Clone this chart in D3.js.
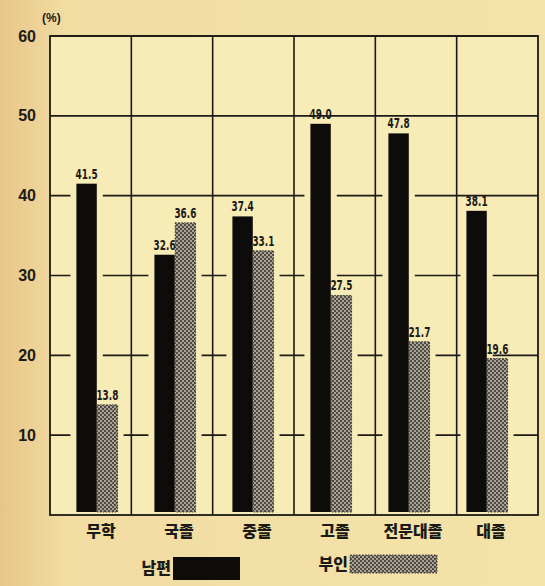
<!DOCTYPE html>
<html>
<head>
<meta charset="utf-8">
<script src="https://cdn.jsdelivr.net/npm/d3@7"></script>
<style>
  html, body { margin: 0; padding: 0; background: #efd89c; }
  svg { display: block; }
</style>
</head>
<body>
<div id="chart"></div>
<script>
'use strict';
// data
var categories = ['무학', '국졸', '중졸', '고졸', '전문대졸', '대졸'];
var husband = [41.5, 32.6, 37.4, 49.0, 47.8, 38.1];
var wife = [13.8, 36.6, 33.1, 27.5, 21.7, 19.6];
var yTicks = [10, 20, 30, 40, 50, 60];
var seriesNames = ['남편', '부인'];

var width = 545, height = 586;
var plotLeft = 50, plotRight = 538, plotTop = 36, plotBottom = 515;

var svg = d3.select('#chart').append('svg')
  .attr('width', width)
  .attr('height', height);

var defs = svg.append('defs');
// paper tone, a bit more orange on the left edge
var grad = defs.append('linearGradient').attr('id', 'paper')
  .attr('x1', 0).attr('x2', 1).attr('y1', 0).attr('y2', 0);
grad.append('stop').attr('offset', '0%').attr('stop-color', '#e8c688');
grad.append('stop').attr('offset', '12%').attr('stop-color', '#f1dca2');
grad.append('stop').attr('offset', '100%').attr('stop-color', '#f4e4aa');

// checkered fill for the wife bars
var pat = defs.append('pattern').attr('id', 'checker')
  .attr('width', 4).attr('height', 4)
  .attr('patternUnits', 'userSpaceOnUse');
pat.append('rect').attr('width', 4).attr('height', 4).attr('fill', '#a9a396');
pat.append('rect').attr('width', 2).attr('height', 2).attr('fill', '#4f4a44');
pat.append('rect').attr('x', 2).attr('y', 2).attr('width', 2).attr('height', 2).attr('fill', '#4f4a44');

svg.append('rect').attr('width', width).attr('height', height).attr('fill', 'url(#paper)');
svg.append('rect')
  .attr('x', plotLeft).attr('y', plotTop)
  .attr('width', plotRight - plotLeft).attr('height', plotBottom - plotTop)
  .attr('fill', '#f7ebb6');

var y = d3.scaleLinear().domain([0, 60]).range([plotBottom, plotTop]);
// grid columns
var xCol = d3.scaleBand().domain(categories).range([plotLeft, plotRight]).padding(0);
// bar groups (slightly narrower than the grid, as printed)
var x = d3.scaleBand().domain(categories).range([58, 526]).padding(0);
var xs = d3.scaleBand().domain(seriesNames).range([x.bandwidth() / 2 - 21, x.bandwidth() / 2 + 21]).padding(0.02);

var ink = '#1c1a17';

// horizontal grid lines
svg.append('g').selectAll('line')
  .data(yTicks)
  .enter().append('line')
  .attr('x1', plotLeft).attr('x2', plotRight)
  .attr('y1', function(d) { return y(d); })
  .attr('y2', function(d) { return y(d); })
  .attr('stroke', ink).attr('stroke-width', 1.6);

// vertical column lines
svg.append('g').selectAll('line')
  .data(categories.slice(1))
  .enter().append('line')
  .attr('x1', function(d) { return xCol(d); })
  .attr('x2', function(d) { return xCol(d); })
  .attr('y1', plotTop).attr('y2', plotBottom)
  .attr('stroke', ink).attr('stroke-width', 1.6);

// frame
svg.append('rect')
  .attr('x', plotLeft).attr('y', plotTop)
  .attr('width', plotRight - plotLeft).attr('height', plotBottom - plotTop)
  .attr('fill', 'none').attr('stroke', ink).attr('stroke-width', 1.8);

var rows = categories.map(function(c, i) {
  return {cat: c, values: [husband[i], wife[i]]};
});
function pairs(d) {
  return d.values.map(function(v, i) { return {name: seriesNames[i], v: v}; });
}

var groups = svg.append('g').selectAll('g')
  .data(rows)
  .enter().append('g')
  .attr('transform', function(d) { return 'translate(' + x(d.cat) + ',0)'; });

// paper-coloured gap so the grid lines break around the bars
groups.selectAll('rect.gap')
  .data(pairs)
  .enter().append('rect')
  .attr('class', 'gap')
  .attr('x', function(d) { return xs(d.name) - 6; })
  .attr('y', function(d) { return y(d.v); })
  .attr('width', xs.bandwidth() + 12)
  .attr('height', function(d) { return plotBottom - 1 - y(d.v); })
  .attr('fill', '#f7ebb6');

groups.selectAll('rect.bar')
  .data(pairs)
  .enter().append('rect')
  .attr('class', 'bar')
  .attr('x', function(d) { return xs(d.name); })
  .attr('y', function(d) { return y(d.v); })
  .attr('width', xs.bandwidth())
  .attr('height', function(d) { return plotBottom - 3 - y(d.v); })
  .attr('fill', function(d) { return d.name === '남편' ? '#0d0c0b' : 'url(#checker)'; })
  .attr('stroke', function(d) { return d.name === '남편' ? 'none' : '#3a3630'; })
  .attr('stroke-width', 1)
  .attr('stroke-dasharray', '1.5,1.5');

// condensed value labels, squeezed to fit the bar width like the print
groups.selectAll('text.val')
  .data(pairs)
  .enter().append('text')
  .attr('class', 'val')
  .attr('x', function(d) { return xs(d.name) + xs.bandwidth() / 2 - 11; })
  .attr('y', function(d) { return y(d.v) - 5; })
  .attr('textLength', 22)
  .attr('lengthAdjust', 'spacingAndGlyphs')
  .style('font-family', '"DejaVu Sans", sans-serif')
  .style('font-weight', 'bold')
  .style('font-size', '14px')
  .style('fill', ink)
  .text(function(d) { return d.v.toFixed(1); });

// y tick labels
svg.append('g').selectAll('text')
  .data(yTicks)
  .enter().append('text')
  .attr('x', 36)
  .attr('y', function(d) { return y(d); })
  .attr('dy', '0.35em')
  .attr('text-anchor', 'end')
  .style('font-family', '"Liberation Sans", Arial, sans-serif')
  .style('font-weight', 'bold')
  .style('font-size', '16px')
  .style('fill', ink)
  .text(function(d) { return d; });

svg.append('text')
  .attr('x', 42).attr('y', 22)
  .style('font-family', '"Liberation Sans", Arial, sans-serif')
  .style('font-weight', 'bold')
  .style('font-size', '12px')
  .style('fill', ink)
  .text('(%)');

// category labels
svg.append('g').selectAll('text')
  .data(categories)
  .enter().append('text')
  .attr('x', function(d) { return x(d) + x.bandwidth() / 2 + 4; })
  .attr('y', 537)
  .attr('text-anchor', 'middle')
  .style('font-family', '"Noto Sans CJK KR", sans-serif')
  .style('font-weight', '900')
  .style('font-size', '16px')
  .style('fill', ink)
  .text(function(d) { return d; });

// legend
var legend = [
  {name: seriesNames[0], tx: 171, rx: 173, ry: 557, rw: 67, rh: 23, fill: '#0d0c0b'},
  {name: seriesNames[1], tx: 348, rx: 350, ry: 555, rw: 87, rh: 18, fill: 'url(#checker)'}
];
var lg = svg.append('g').selectAll('g')
  .data(legend)
  .enter().append('g');
lg.append('text')
  .attr('x', function(d) { return d.tx; })
  .attr('y', function(d) { return d.ry + d.rh / 2; })
  .attr('dy', '0.35em')
  .attr('text-anchor', 'end')
  .style('font-family', '"Noto Sans CJK KR", sans-serif')
  .style('font-weight', '900')
  .style('font-size', '16px')
  .style('fill', ink)
  .text(function(d) { return d.name; });
lg.append('rect')
  .attr('x', function(d) { return d.rx; })
  .attr('y', function(d) { return d.ry; })
  .attr('width', function(d) { return d.rw; })
  .attr('height', function(d) { return d.rh; })
  .attr('fill', function(d) { return d.fill; })
  .attr('stroke', function(d) { return d.fill === '#0d0c0b' ? 'none' : '#3a3630'; })
  .attr('stroke-dasharray', '1.5,1.5');
</script>
</body>
</html>
